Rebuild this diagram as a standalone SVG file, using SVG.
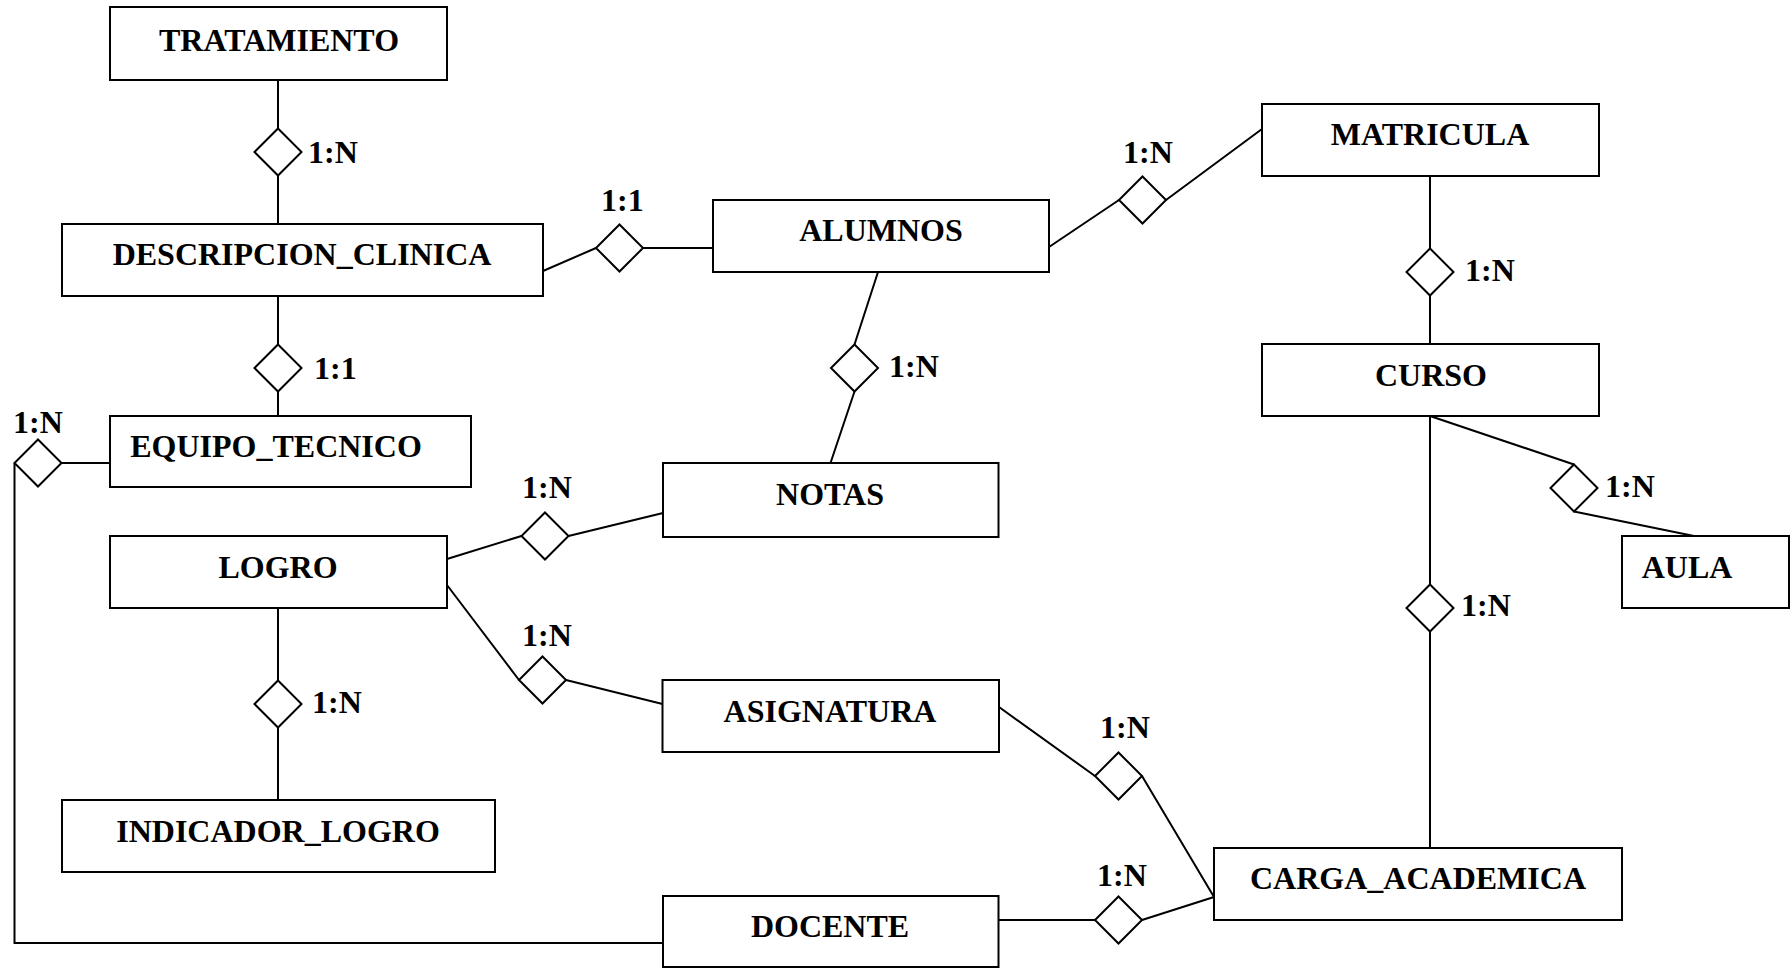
<svg xmlns="http://www.w3.org/2000/svg" width="1791" height="969" viewBox="0 0 1791 969">
<style>
.box{fill:#fff;stroke:#000;stroke-width:2}
.dia{fill:#fff;stroke:#000;stroke-width:2}
.ln{fill:none;stroke:#000;stroke-width:2}
.t{font-family:"Liberation Serif","Times New Roman",serif;font-weight:bold;font-size:32px;fill:#000;text-anchor:middle}
.l{font-family:"Liberation Serif","Times New Roman",serif;font-weight:bold;font-size:32px;fill:#000}
</style>
<rect width="1791" height="969" fill="#fff"/>
<g id="connectors">
<path class="ln" d="M278 80V128.5M278 175.5V224"/>
<path class="ln" d="M278 296V344.5M278 391.5V416"/>
<path class="ln" d="M61.5 463H110M14.5 463V943H663"/>
<path class="ln" d="M278 608V680.5M278 727.5V800"/>
<path class="ln" d="M447 559L521.5 536M568.5 536L663 513"/>
<path class="ln" d="M447 585L519 680M566 680L662.5 704"/>
<path class="ln" d="M543 271L596 248M643 248H713"/>
<path class="ln" d="M878 272L854.5 344.5M854.5 391.5L830.5 463"/>
<path class="ln" d="M1049 247L1119 200M1166 200L1262 129"/>
<path class="ln" d="M1430 176V248.5M1430 295.5V344"/>
<path class="ln" d="M1430 416L1574 464.5M1574 511.5L1694 536"/>
<path class="ln" d="M1430 416V584.5M1430 631.5V848"/>
<path class="ln" d="M999 707L1095 776M1142 776L1214 897"/>
<path class="ln" d="M998.5 920H1095M1142 920L1214 897"/>
</g>
<g id="TRATAMIENTO"><rect class="box" x="110" y="7" width="337" height="73"/><text class="t" x="279" y="51">TRATAMIENTO</text></g>
<g id="DESCRIPCION_CLINICA"><rect class="box" x="62" y="224" width="481" height="72"/><text class="t" x="302" y="265">DESCRIPCION_CLINICA</text></g>
<g id="EQUIPO_TECNICO"><rect class="box" x="110" y="416" width="361" height="71"/><text class="t" x="276" y="457">EQUIPO_TECNICO</text></g>
<g id="LOGRO"><rect class="box" x="110" y="536" width="337" height="72"/><text class="t" x="278" y="578">LOGRO</text></g>
<g id="INDICADOR_LOGRO"><rect class="box" x="62" y="800" width="433" height="72"/><text class="t" x="278" y="842">INDICADOR_LOGRO</text></g>
<g id="ALUMNOS"><rect class="box" x="713" y="200" width="336" height="72"/><text class="t" x="881" y="241">ALUMNOS</text></g>
<g id="NOTAS"><rect class="box" x="663" y="463" width="335.5" height="74"/><text class="t" x="830" y="505">NOTAS</text></g>
<g id="ASIGNATURA"><rect class="box" x="662.5" y="680" width="336.5" height="72"/><text class="t" x="830" y="722">ASIGNATURA</text></g>
<g id="DOCENTE"><rect class="box" x="663" y="896" width="335.5" height="71"/><text class="t" x="830" y="937">DOCENTE</text></g>
<g id="MATRICULA"><rect class="box" x="1262" y="104" width="337" height="72"/><text class="t" x="1430" y="145">MATRICULA</text></g>
<g id="CURSO"><rect class="box" x="1262" y="344" width="337" height="72"/><text class="t" x="1431" y="386">CURSO</text></g>
<g id="AULA"><rect class="box" x="1622" y="536" width="167" height="72"/><text class="t" x="1687" y="578">AULA</text></g>
<g id="CARGA_ACADEMICA"><rect class="box" x="1214" y="848" width="408" height="72"/><text class="t" x="1418" y="889">CARGA_ACADEMICA</text></g>
<g id="rel_trat_desc"><polygon class="dia" points="278,128.5 301.5,152 278,175.5 254.5,152"/><text class="l" x="308" y="163">1:N</text></g>
<g id="rel_desc_equipo"><polygon class="dia" points="278,344.5 301.5,368 278,391.5 254.5,368"/><text class="l" x="314" y="379">1:1</text></g>
<g id="rel_equipo_docente"><polygon class="dia" points="38,439.5 61.5,463 38,486.5 14.5,463"/><text class="l" x="13" y="433">1:N</text></g>
<g id="rel_logro_indicador"><polygon class="dia" points="278,680.5 301.5,704 278,727.5 254.5,704"/><text class="l" x="312" y="713">1:N</text></g>
<g id="rel_logro_notas"><polygon class="dia" points="545,512.5 568.5,536 545,559.5 521.5,536"/><text class="l" x="522" y="498">1:N</text></g>
<g id="rel_logro_asignatura"><polygon class="dia" points="542.5,656.5 566,680 542.5,703.5 519,680"/><text class="l" x="522" y="646">1:N</text></g>
<g id="rel_desc_alumnos"><polygon class="dia" points="619.5,224.5 643,248 619.5,271.5 596,248"/><text class="l" x="601" y="211">1:1</text></g>
<g id="rel_alumnos_notas"><polygon class="dia" points="854.5,344.5 878,368 854.5,391.5 831,368"/><text class="l" x="889" y="377">1:N</text></g>
<g id="rel_alumnos_matricula"><polygon class="dia" points="1142.5,176.5 1166,200 1142.5,223.5 1119,200"/><text class="l" x="1123" y="163">1:N</text></g>
<g id="rel_matricula_curso"><polygon class="dia" points="1430,248.5 1453.5,272 1430,295.5 1406.5,272"/><text class="l" x="1465" y="281">1:N</text></g>
<g id="rel_curso_aula"><polygon class="dia" points="1574,464.5 1597.5,488 1574,511.5 1550.5,488"/><text class="l" x="1605" y="497">1:N</text></g>
<g id="rel_curso_carga"><polygon class="dia" points="1430,584.5 1453.5,608 1430,631.5 1406.5,608"/><text class="l" x="1461" y="616">1:N</text></g>
<g id="rel_asignatura_carga"><polygon class="dia" points="1118.5,752.5 1142,776 1118.5,799.5 1095,776"/><text class="l" x="1100" y="738">1:N</text></g>
<g id="rel_docente_carga"><polygon class="dia" points="1118.5,896.5 1142,920 1118.5,943.5 1095,920"/><text class="l" x="1097" y="886">1:N</text></g>
</svg>
